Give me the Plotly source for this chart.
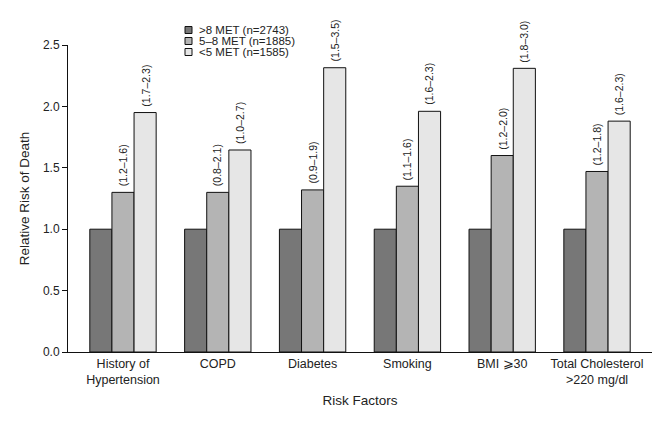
import plotly.graph_objects as go

categories = ["History of<br>Hypertension", "COPD", "Diabetes", "Smoking", "BMI ⩾30",
              "Total Cholesterol<br>&gt;220 mg/dl"]
series_names = ["&gt;8 MET (n=2743)", "5–8 MET (n=1885)", "&lt;5 MET (n=1585)"]
high_met = [1.0, 1.0, 1.0, 1.0, 1.0, 1.0]
mid_met = [1.30, 1.30, 1.32, 1.35, 1.60, 1.47]
low_met = [1.95, 1.645, 2.315, 1.96, 2.31, 1.88]
mid_ci = ["(1.2–1.6)", "(0.8–2.1)", "(0.9–1.9)", "(1.1–1.6)", "(1.2–2.0)", "(1.2–1.8)"]
low_ci = ["(1.7–2.3)", "(1.0–2.7)", "(1.5–3.5)", "(1.6–2.3)", "(1.8–3.0)", "(1.6–2.3)"]
colors = ["#777777", "#b4b4b4", "#e6e6e6"]

FONT = "Liberation Sans, Arial, sans-serif"
x_idx = list(range(len(categories)))
BARGAP = 0.3
bar_w = (1 - BARGAP) / 3

fig = go.Figure()
for vals, col in [(high_met, colors[0]), (mid_met, colors[1]), (low_met, colors[2])]:
    fig.add_trace(go.Bar(
        x=x_idx, y=vals, marker=dict(color=col, line=dict(color="#111111", width=1)),
        showlegend=False, hoverinfo="y",
    ))

annotations = []
for k, (vals, cis) in enumerate([(mid_met, mid_ci), (low_met, low_ci)]):
    offset = bar_w * k  # mid bar at centre, light bar to the right
    for i, (v, t) in enumerate(zip(vals, cis)):
        annotations.append(dict(xref="x", yref="y", x=i + offset, y=v, text=t,
                                textangle=-90, showarrow=False, xanchor="center",
                                yanchor="bottom", yshift=4,
                                font=dict(size=10.5, color="#222222", family=FONT)))

# manual compact legend (coordinates relative to plot area: 584 x 307 px)
PW, PH = 584, 307
leg_y = [30, 41, 52]
shapes = []
for i, (name, col) in enumerate(zip(series_names, colors)):
    yc = leg_y[i] - 45
    shapes.append(dict(type="rect", xref="paper", yref="paper",
                       x0=(185 - 68) / PW, x1=(192 - 68) / PW,
                       y0=(PH - (yc + 3.5)) / PH, y1=(PH - (yc - 3.5)) / PH,
                       fillcolor=col, line=dict(color="#111111", width=1)))
    annotations.append(dict(xref="paper", yref="paper", x=(197 - 68) / PW, y=(PH - yc) / PH,
                            text=name, showarrow=False, xanchor="left", yanchor="middle",
                            font=dict(size=11.5, color="#222222", family=FONT)))

fig.update_layout(
    width=670, height=425,
    margin=dict(l=60, r=26, t=37, b=81, autoexpand=False),
    paper_bgcolor="white", plot_bgcolor="white",
    barmode="group", bargap=BARGAP, bargroupgap=0,
    font=dict(family=FONT, color="#222222"),
    shapes=shapes, annotations=annotations,
    xaxis=dict(
        tickvals=x_idx, ticktext=categories, range=[-0.58, 5.58],
        showline=True, linecolor="#111111", linewidth=1, ticks="",
        showgrid=False, zeroline=False, automargin=False,
        tickfont=dict(size=12.5, family=FONT, color="#222222"),
        title=dict(text="Risk Factors", font=dict(size=13.5, family=FONT, color="#222222"), standoff=9),
    ),
    yaxis=dict(
        range=[0, 2.5], tickvals=[0, 0.5, 1.0, 1.5, 2.0, 2.5], tickformat=".1f",
        showline=True, linecolor="#111111", linewidth=1, ticks="outside", ticklen=5,
        tickcolor="#111111", showgrid=False, zeroline=False, automargin=False,
        tickfont=dict(size=12, family=FONT, color="#222222"),
        title=dict(text="Relative Risk of Death", font=dict(size=13.5, family=FONT, color="#222222"), standoff=10),
    ),
)

fig.write_html("out.html")
